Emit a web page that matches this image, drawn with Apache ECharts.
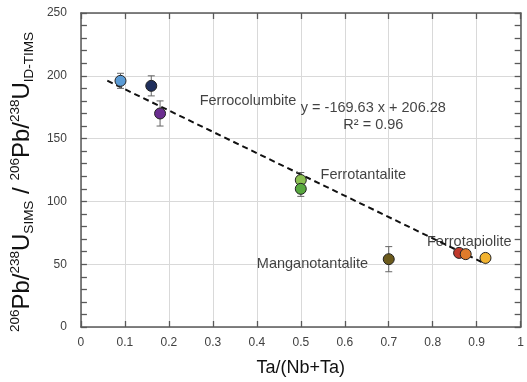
<!DOCTYPE html>
<html>
<head>
<meta charset="utf-8">
<script src="https://cdn.jsdelivr.net/npm/echarts@6/dist/echarts.min.js"></script>
<style>html,body{margin:0;padding:0;background:#fff}#c{width:527px;height:382px}</style>
</head>
<body>
<div id="c"></div>
<script>
// ---- data ----
const ptX    = [0.09, 0.16, 0.18, 0.50, 0.50, 0.70, 0.86, 0.875, 0.92];
const ptY    = [196, 192, 170, 117, 110, 54, 59, 58, 55];
const ptErr  = [6, 8, 10, 6, 6, 10, 2, 2, 3];
const ptColors = ['#5b9bd5', '#1f2f5c', '#6a2d8f', '#8cc152', '#58a83f', '#6b5a1c', '#c0392b', '#e07b2a', '#f2b330'];
const trendX = [0.06, 0.92];
const trendSlope = -169.63;
const trendIntercept = 206.28;
const labelNames = ['Ferrocolumbite', 'Ferrotantalite', 'Manganotantalite', 'Ferrotapiolite'];
const labelX = [0.27, 0.545, 0.40, 0.787];
const labelY = [180, 121, 50.5, 68];
const eqLines = ['y = -169.63 x + 206.28', 'R² = 0.96'];
const eqX = [0.665, 0.665];
const eqY = [174, 161];
const xTicks = [0, 1, 0.1];
const yTicks = [0, 250, 50];

const chart = echarts.init(document.getElementById('c'));
const FONT = 'Liberation Sans, Arial, sans-serif';
const axisCol = '#595959';

const points = ptX.map((x, i) => ({value: [x, ptY[i]], itemStyle: {color: ptColors[i]}}));
const errData = ptX.map((x, i) => [x, ptY[i], ptY[i] - ptErr[i], ptY[i] + ptErr[i]]);
const trendData = trendX.map(x => [x, trendSlope * x + trendIntercept]);
const labelData = labelNames.map((n, i) => ({value: [labelX[i], labelY[i]], name: n}));
const eqData = eqLines.map((n, i) => ({value: [eqX[i], eqY[i]], name: n}));

const baseX = {
  type: 'value', min: xTicks[0], max: xTicks[1], interval: xTicks[2],
  axisLine: {show: true, onZero: false, lineStyle: {color: axisCol, width: 1.5}},
  axisTick: {show: true, inside: true, length: 6, lineStyle: {color: axisCol, width: 1.3}},
  splitLine: {show: true, lineStyle: {color: '#d9d9d9', width: 1}},
};
const baseY = {
  type: 'value', min: yTicks[0], max: yTicks[1], interval: yTicks[2],
  axisLine: {show: true, onZero: false, lineStyle: {color: axisCol, width: 1.5}},
  axisTick: {show: true, inside: true, length: 6, lineStyle: {color: axisCol, width: 1.3}},
  minorTick: {show: true, splitNumber: 5, length: 6, lineStyle: {color: axisCol, width: 1.3}},
  splitLine: {show: true, lineStyle: {color: '#d9d9d9', width: 1}},
};

chart.setOption({
  animation: false,
  textStyle: {fontFamily: FONT},
  grid: {left: 77, right: 4, top: 13, bottom: 50, containLabel: false},
  xAxis: [
    Object.assign({}, baseX, {
      position: 'bottom',
      axisLabel: {color: '#404040', fontSize: 12, margin: 10, fontFamily: FONT},
      name: 'Ta/(Nb+Ta)', nameLocation: 'middle', nameGap: 32,
      nameTextStyle: {color: '#111', fontSize: 18, fontFamily: FONT}
    }),
    Object.assign({}, baseX, {position: 'top', axisLabel: {show: false}, splitLine: {show: false}})
  ],
  yAxis: [
    Object.assign({}, baseY, {
      position: 'left',
      axisLabel: {color: '#404040', fontSize: 12, margin: 14, fontFamily: FONT},
      name: '{sup|206}{m|Pb/}{sup|238}{m|U}{sub|SIMS}{m| / }{sup|206}{m|Pb/}{sup|238}{m|U}{sub|ID-TIMS}',
      nameLocation: 'middle', nameRotate: 90, nameGap: 42,
      nameTextStyle: {
        color: '#111', fontFamily: FONT, padding: [0, 24, 0, 0],
        rich: {
          m: {fontSize: 24, lineHeight: 28, fontFamily: FONT, color: '#111'},
          sup: {fontSize: 13.5, lineHeight: 13, verticalAlign: 'top', fontFamily: FONT, color: '#111'},
          sub: {fontSize: 13.5, lineHeight: 13, verticalAlign: 'bottom', fontFamily: FONT, color: '#111'}
        }
      }
    }),
    Object.assign({}, baseY, {position: 'right', axisLabel: {show: false}, splitLine: {show: false}})
  ],
  series: [
    {
      type: 'line', data: trendData, symbol: 'none', z: 2,
      lineStyle: {color: '#111', width: 2, type: [6, 4]}
    },
    {
      type: 'custom', data: errData, z: 3,
      renderItem: function (params, api) {
        const x = api.value(0);
        const lo = api.coord([x, api.value(2)]);
        const hi = api.coord([x, api.value(3)]);
        const w = 3.5;
        const st = {stroke: '#666', lineWidth: 1};
        return {type: 'group', children: [
          {type: 'line', shape: {x1: lo[0], y1: lo[1], x2: hi[0], y2: hi[1]}, style: st},
          {type: 'line', shape: {x1: lo[0] - w, y1: lo[1], x2: lo[0] + w, y2: lo[1]}, style: st},
          {type: 'line', shape: {x1: hi[0] - w, y1: hi[1], x2: hi[0] + w, y2: hi[1]}, style: st}
        ]};
      }
    },
    {
      type: 'scatter', data: points, symbol: 'circle', symbolSize: 11, z: 4,
      itemStyle: {borderColor: '#222', borderWidth: 1, opacity: 1}
    },
    {
      type: 'scatter', data: labelData, symbolSize: 0, z: 5, silent: true,
      label: {show: true, position: 'inside', align: 'left', verticalAlign: 'middle',
        formatter: p => p.name, color: '#111', fontSize: 14.5, fontFamily: FONT}
    },
    {
      type: 'scatter', data: eqData, symbolSize: 0, z: 5, silent: true,
      label: {show: true, position: 'inside', align: 'center', verticalAlign: 'middle',
        formatter: p => p.name, color: '#111', fontSize: 14.5, fontFamily: FONT}
    }
  ]
});
</script>
</body>
</html>
